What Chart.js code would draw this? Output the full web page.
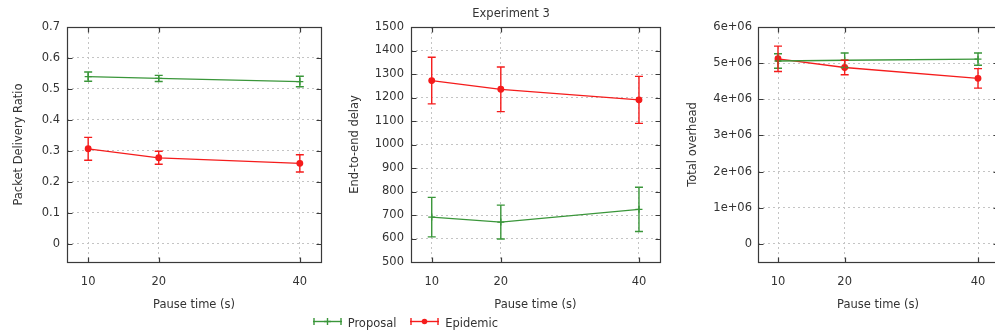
<!DOCTYPE html>
<html>
<head>
<meta charset="utf-8">
<script src="https://cdn.jsdelivr.net/npm/chart.js@4.4.1/dist/chart.umd.min.js"></script>
<style>
  body { margin: 0; background: #fff; }
  #wrap { position: relative; width: 995px; height: 333px; overflow: hidden; font-family: "DejaVu Sans", sans-serif; color: #333; }
  canvas { position: absolute; top: 0; }
  #title { position: absolute; top: 7px; left: 411px; width: 200px; text-align: center; font-size: 11.5px; line-height: 13px; }
  #legend { position: absolute; top: 316px; left: 313px; font-size: 11.5px; line-height: 12px; white-space: nowrap; }
  #legend span { display: inline-block; vertical-align: middle; }
</style>
</head>
<body>
<div id="wrap">
  <canvas id="pdrChart" width="330" height="333" style="left:0px"></canvas>
  <canvas id="delayChart" width="335" height="333" style="left:330px"></canvas>
  <canvas id="overheadChart" width="345" height="333" style="left:665px"></canvas>
  <div id="title">Experiment 3</div>
  <div id="legend"></div>
</div>
<script>
// valorile
const pauseTimes = [10, 20, 40];
const seriesNames = ['Proposal', 'Epidemic'];
const seriesColors = ['#3a963a', '#f51c1c'];

const pdrProposal = [0.540, 0.534, 0.524];
const pdrProposalErr = [0.015, 0.010, 0.017];
const pdrEpidemic = [0.307, 0.278, 0.260];
const pdrEpidemicErr = [0.037, 0.021, 0.028];
const pdrTicks = [0, 0.1, 0.2, 0.3, 0.4, 0.5, 0.6, 0.7];
const pdrTickLabels = ['0', '0.1', '0.2', '0.3', '0.4', '0.5', '0.6', '0.7'];

const delayProposal = [691, 670, 724];
const delayProposalErr = [84, 72, 94];
const delayEpidemic = [1272, 1235, 1190];
const delayEpidemicErr = [99, 95, 100];
const delayTicks = [500, 600, 700, 800, 900, 1000, 1100, 1200, 1300, 1400, 1500];
const delayTickLabels = ['500', '600', '700', '800', '900', '1000', '1100', '1200', '1300', '1400', '1500'];

const overheadProposal = [5060000, 5080000, 5110000];
const overheadProposalErr = [200000, 200000, 170000];
const overheadEpidemic = [5120000, 4880000, 4580000];
const overheadEpidemicErr = [350000, 200000, 270000];
const overheadTicks = [0, 1000000, 2000000, 3000000, 4000000, 5000000, 6000000];
const overheadTickLabels = ['0', '1e+06', '2e+06', '3e+06', '4e+06', '5e+06', '6e+06'];

Chart.defaults.font.family = '"DejaVu Sans", sans-serif';
Chart.defaults.font.size = 11.5;
Chart.defaults.color = '#333';

// bare de eroare + chenarul cu tick-uri spre interior
const errorBarsPlugin = {
    id: 'errorBars',
    afterDatasetsDraw(chart) {
        const ctx = chart.ctx;
        const yScale = chart.scales.y;
        chart.data.datasets.forEach((ds, di) => {
            const meta = chart.getDatasetMeta(di);
            ctx.save();
            ctx.strokeStyle = seriesColors[di];
            ctx.lineWidth = 1.4;
            meta.data.forEach((pt, i) => {
                const v = ds.data[i].y;
                const e = ds.err[i];
                const yTop = yScale.getPixelForValue(v + e);
                const yBot = yScale.getPixelForValue(v - e);
                const x = pt.x;
                ctx.beginPath();
                ctx.moveTo(x, yTop);
                ctx.lineTo(x, yBot);
                ctx.moveTo(x - 4, yTop);
                ctx.lineTo(x + 4, yTop);
                ctx.moveTo(x - 4, yBot);
                ctx.lineTo(x + 4, yBot);
                ctx.stroke();
            });
            ctx.restore();
        });
    },
    afterDraw(chart) {
        const ctx = chart.ctx;
        const a = chart.chartArea;
        const L = Math.round(a.left) + 0.5, R = Math.round(a.right) + 0.5;
        const T = Math.round(a.top) + 0.5, B = Math.round(a.bottom) + 0.5;
        ctx.save();
        ctx.strokeStyle = '#3a3a3a';
        ctx.lineWidth = 1.2;
        ctx.strokeRect(L, T, R - L, B - T);
        ctx.beginPath();
        chart.scales.y.ticks.forEach(t => {
            const y = Math.round(chart.scales.y.getPixelForValue(t.value)) + 0.5;
            ctx.moveTo(L, y); ctx.lineTo(L + 5, y);
            ctx.moveTo(R, y); ctx.lineTo(R - 5, y);
        });
        chart.scales.x.ticks.forEach(t => {
            const x = Math.round(chart.scales.x.getPixelForValue(t.value)) + 0.5;
            ctx.moveTo(x, B); ctx.lineTo(x, B - 5);
            ctx.moveTo(x, T); ctx.lineTo(x, T + 5);
        });
        ctx.stroke();
        ctx.restore();
    }
};

function serie(idx, values, errs) {
    return {
        label: seriesNames[idx],
        data: pauseTimes.map((x, i) => ({ x: x, y: values[i] })),
        err: errs,
        borderColor: seriesColors[idx],
        backgroundColor: seriesColors[idx],
        borderWidth: 1.3,
        pointStyle: idx === 0 ? 'cross' : 'circle',
        pointRadius: idx === 0 ? 3.5 : 2.8,
        pointBorderWidth: 1.3,
        tension: 0
    };
}

function deseneaza(id, p) {
    return new Chart(document.getElementById(id), {
        type: 'line',
        data: { datasets: [serie(0, p.prop, p.propErr), serie(1, p.epid, p.epidErr)] },
        options: {
            responsive: false,
            animation: false,
            devicePixelRatio: 1,
            layout: { padding: { left: 0, top: 27, right: p.padRight, bottom: 21 } },
            plugins: { legend: { display: false }, tooltip: { enabled: false } },
            scales: {
                x: {
                    type: 'linear', min: 7, max: 43,
                    afterBuildTicks: s => { s.ticks = pauseTimes.map(v => ({ value: v })); },
                    afterFit: s => { s.height = 50; },
                    ticks: { padding: 13, callback: v => String(v), maxRotation: 0 },
                    grid: { color: '#c4c4c4', drawTicks: false },
                    border: { display: false, dash: [2, 3] },
                    title: { display: true, text: 'Pause time (s)', padding: 0 }
                },
                y: {
                    type: 'linear', min: p.min, max: p.max,
                    afterBuildTicks: s => { s.ticks = p.ticks.map(v => ({ value: v })); },
                    afterFit: s => { s.width = p.yWidth; },
                    ticks: { padding: p.tickPad, callback: (v, i) => p.labels[i] },
                    grid: { color: '#c4c4c4', drawTicks: false },
                    border: { display: false, dash: [2, 3] },
                    title: { display: true, text: p.title, padding: { top: p.titlePad, bottom: 0 } }
                }
            }
        },
        plugins: [errorBarsPlugin]
    });
}

deseneaza('pdrChart', {
    prop: pdrProposal, propErr: pdrProposalErr, epid: pdrEpidemic, epidErr: pdrEpidemicErr,
    min: -0.0583, max: 0.7, ticks: pdrTicks, labels: pdrTickLabels,
    title: 'Packet Delivery Ratio', yWidth: 67, titlePad: 12, tickPad: 7, padRight: 9
});
deseneaza('delayChart', {
    prop: delayProposal, propErr: delayProposalErr, epid: delayEpidemic, epidErr: delayEpidemicErr,
    min: 500, max: 1500, ticks: delayTicks, labels: delayTickLabels,
    title: 'End-to-end delay', yWidth: 81, titlePad: 18, tickPad: 7, padRight: 5
});
deseneaza('overheadChart', {
    prop: overheadProposal, propErr: overheadProposalErr, epid: overheadEpidemic, epidErr: overheadEpidemicErr,
    min: -500000, max: 6000000, ticks: overheadTicks, labels: overheadTickLabels,
    title: 'Total overhead', yWidth: 93, titlePad: 21, tickPad: 6, padRight: 12
});

// legenda comuna, jos
const legend = document.getElementById('legend');
seriesNames.forEach((nume, i) => {
    const c = seriesColors[i];
    const marker = i === 0
        ? `<line x1="14.5" y1="2" x2="14.5" y2="9" stroke="${c}" stroke-width="1.4"/><line x1="11" y1="5.5" x2="18" y2="5.5" stroke="${c}" stroke-width="1.4"/>`
        : `<circle cx="14.5" cy="5.5" r="2.8" fill="${c}"/>`;
    const item = document.createElement('span');
    item.style.marginRight = i === 0 ? '14px' : '0';
    item.innerHTML = `<span><svg width="29" height="11">
        <line x1="0" y1="5.5" x2="29" y2="5.5" stroke="${c}" stroke-width="1.4"/>
        <line x1="1" y1="2" x2="1" y2="9" stroke="${c}" stroke-width="1.4"/>
        <line x1="28" y1="2" x2="28" y2="9" stroke="${c}" stroke-width="1.4"/>${marker}</svg></span>
        <span style="margin-left:2px">${nume}</span>`;
    legend.appendChild(item);
});
</script>
</body>
</html>
